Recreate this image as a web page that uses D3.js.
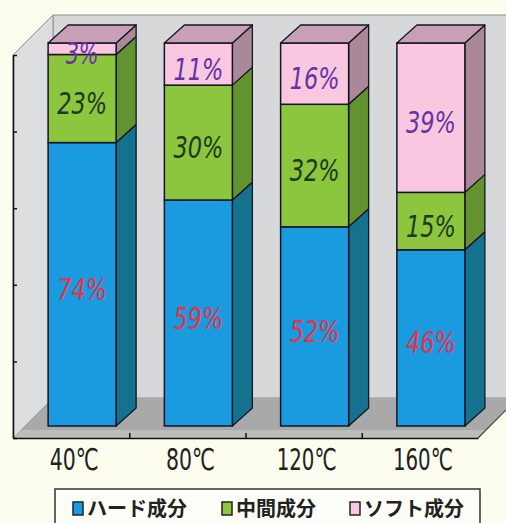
<!DOCTYPE html>
<html>
<head>
<meta charset="utf-8">
<script src="https://cdn.jsdelivr.net/npm/d3@7"></script>
<style>
  html, body { margin: 0; padding: 0; background: #fdfdef; }
  svg { display: block; }
</style>
</head>
<body>
<div id="chart"></div>
<script>
// chart data
const categories = ['40℃', '80℃', '120℃', '160℃'];
const hard = [74, 59, 52, 46];   // ハード成分
const middle = [23, 30, 32, 15]; // 中間成分
const soft = [3, 11, 16, 39];    // ソフト成分
const seriesNames = ['ハード成分', '中間成分', 'ソフト成分'];
const yTicks = [0, 20, 40, 60, 80, 100];

const width = 506, height = 523;
const plotLeft = 13, plotRight = 478, plotTop = 55, plotBottom = 438;
const wallDX = 40, wallDY = -40;   // depth of the walls
const barDX = 11, barDY = -12;     // bars sit a bit back from the front
const depthX = 20, depthY = -18;   // depth of each bar

const front = ['#1a9be0', '#8cc53e', '#f9c7df'];
const side = ['#14728f', '#63932f', '#aa8898'];
const topFace = '#c7a0b6';
const labelColor = ['#e8324a', '#1d3a1c', '#6533a6'];

const svg = d3.select('#chart')
  .append('svg')
  .attr('width', width)
  .attr('height', height);

const x = d3.scaleBand()
  .domain(categories)
  .range([plotLeft, plotRight])
  .paddingInner(0.415)
  .paddingOuter(0.2075);

const y = d3.scaleLinear()
  .domain([0, 100])
  .range([plotBottom, plotTop]);

const pts = a => a.map(p => p.join(',')).join(' ');

// walls and floor
svg.append('rect')
  .attr('x', plotLeft + wallDX).attr('y', plotTop + wallDY)
  .attr('width', width - plotLeft - wallDX + 20).attr('height', plotBottom - plotTop)
  .attr('fill', '#d6d8da').attr('stroke', '#8f9092').attr('stroke-width', 1);

svg.append('polygon')
  .attr('points', pts([[plotLeft, plotTop], [plotLeft + wallDX, plotTop + wallDY], [plotLeft + wallDX, plotBottom + wallDY], [plotLeft, plotBottom]]))
  .attr('fill', '#dcdddf').attr('stroke', '#8f9092').attr('stroke-width', 1);

svg.append('polygon')
  .attr('points', pts([[plotLeft, plotBottom], [plotRight, plotBottom], [plotRight + wallDX, plotBottom + wallDY], [plotLeft + wallDX, plotBottom + wallDY]]))
  .attr('fill', '#a9a9a9');

svg.append('polygon')
  .attr('points', pts([[plotLeft + 8, plotBottom - 8], [plotRight + 8, plotBottom - 8], [plotRight, plotBottom], [plotLeft, plotBottom]]))
  .attr('fill', '#bdbdbd');

svg.append('line')
  .attr('x1', plotRight).attr('y1', plotBottom)
  .attr('x2', plotRight + wallDX).attr('y2', plotBottom + wallDY)
  .attr('stroke', '#444').attr('stroke-width', 1.2);

// axes
svg.append('g')
  .attr('transform', `translate(${plotLeft},0)`)
  .call(d3.axisLeft(y).tickValues(yTicks).tickSize(-4).tickSizeOuter(0).tickFormat(''))
  .call(g => g.selectAll('path, line').attr('stroke', '#111').attr('stroke-width', 1.5));

const xEdge = d3.scaleLinear().domain([0, categories.length]).range([plotLeft, plotRight]);
svg.append('g')
  .attr('transform', `translate(0,${plotBottom})`)
  .call(d3.axisBottom(xEdge).tickValues([1, 2, 3]).tickSize(-5).tickSizeOuter(0).tickFormat(''))
  .call(g => g.selectAll('path, line').attr('stroke', '#111').attr('stroke-width', 1.5));

svg.append('g')
  .attr('transform', `translate(3,${plotBottom})`)
  .call(d3.axisBottom(x).tickSize(0).tickPadding(14))
  .call(g => g.select('.domain').remove())
  .call(g => g.selectAll('text')
    .attr('fill', '#222')
    .attr('dy', '0.6em')
    .style('font-family', '"Liberation Sans Narrow", "DejaVu Sans Condensed", "Liberation Sans", sans-serif')
    .style('font-size', '30px')
    .attr('textLength', d => d.length > 3 ? 60 : 49)
    .attr('lengthAdjust', 'spacingAndGlyphs'));

// stacked 3D bars
const series = [hard, middle, soft];
categories.forEach((c, i) => {
  const g = svg.append('g');
  const x0 = x(c) + barDX, x1 = x0 + x.bandwidth();
  let acc = 0;
  series.forEach((s, k) => {
    const v = s[i];
    const yb = y(acc) + barDY, yt = y(acc + v) + barDY;
    acc += v;
    g.append('polygon')
      .attr('points', pts([[x1, yb], [x1 + depthX, yb + depthY], [x1 + depthX, yt + depthY], [x1, yt]]))
      .attr('fill', side[k]).attr('stroke', '#151525').attr('stroke-width', 1.3)
      .attr('stroke-linejoin', 'round');
    g.append('rect')
      .attr('x', x0).attr('y', yt)
      .attr('width', x.bandwidth()).attr('height', yb - yt)
      .attr('fill', front[k]).attr('stroke', '#151525').attr('stroke-width', 1.5);
    if (k === series.length - 1) {
      g.append('polygon')
        .attr('points', pts([[x0, yt], [x0 + depthX, yt + depthY], [x1 + depthX, yt + depthY], [x1, yt]]))
        .attr('fill', topFace).attr('stroke', '#151525').attr('stroke-width', 1.3)
        .attr('stroke-linejoin', 'round');
    }
  });
});

// value labels
categories.forEach((c, i) => {
  const cx = x(c) + barDX + x.bandwidth() / 2;
  let acc = 0;
  series.forEach((s, k) => {
    const v = s[i];
    const cy = y(acc + v / 2) + barDY + 5;
    acc += v;
    svg.append('text')
      .attr('x', cx).attr('y', cy)
      .attr('text-anchor', 'middle')
      .attr('dominant-baseline', 'central')
      .attr('fill', labelColor[k])
      .style('font-family', '"Liberation Sans Narrow", "DejaVu Sans Condensed", "Liberation Sans", sans-serif')
      .style('font-style', 'italic')
      .style('font-size', '30px')
      .attr('textLength', v < 10 ? 33 : 50)
      .attr('lengthAdjust', 'spacingAndGlyphs')
      .text(v + '%');
  });
});

// legend
const legend = svg.append('g');
legend.append('rect')
  .attr('x', 55).attr('y', 489)
  .attr('width', 425).attr('height', 50)
  .attr('fill', '#fefef8').attr('stroke', '#333').attr('stroke-width', 1.5);

const legendX = [73, 222, 350];
seriesNames.forEach((name, k) => {
  legend.append('rect')
    .attr('x', legendX[k]).attr('y', 502)
    .attr('width', 10).attr('height', 13)
    .attr('fill', front[k]).attr('stroke', '#222').attr('stroke-width', 1.5);
  legend.append('text')
    .attr('x', legendX[k] + 14).attr('y', 516)
    .attr('fill', '#222')
    .style('font-family', '"Noto Sans CJK JP", sans-serif')
    .style('font-weight', 'bold')
    .style('font-size', '20px')
    .text(name);
});
</script>
</body>
</html>
